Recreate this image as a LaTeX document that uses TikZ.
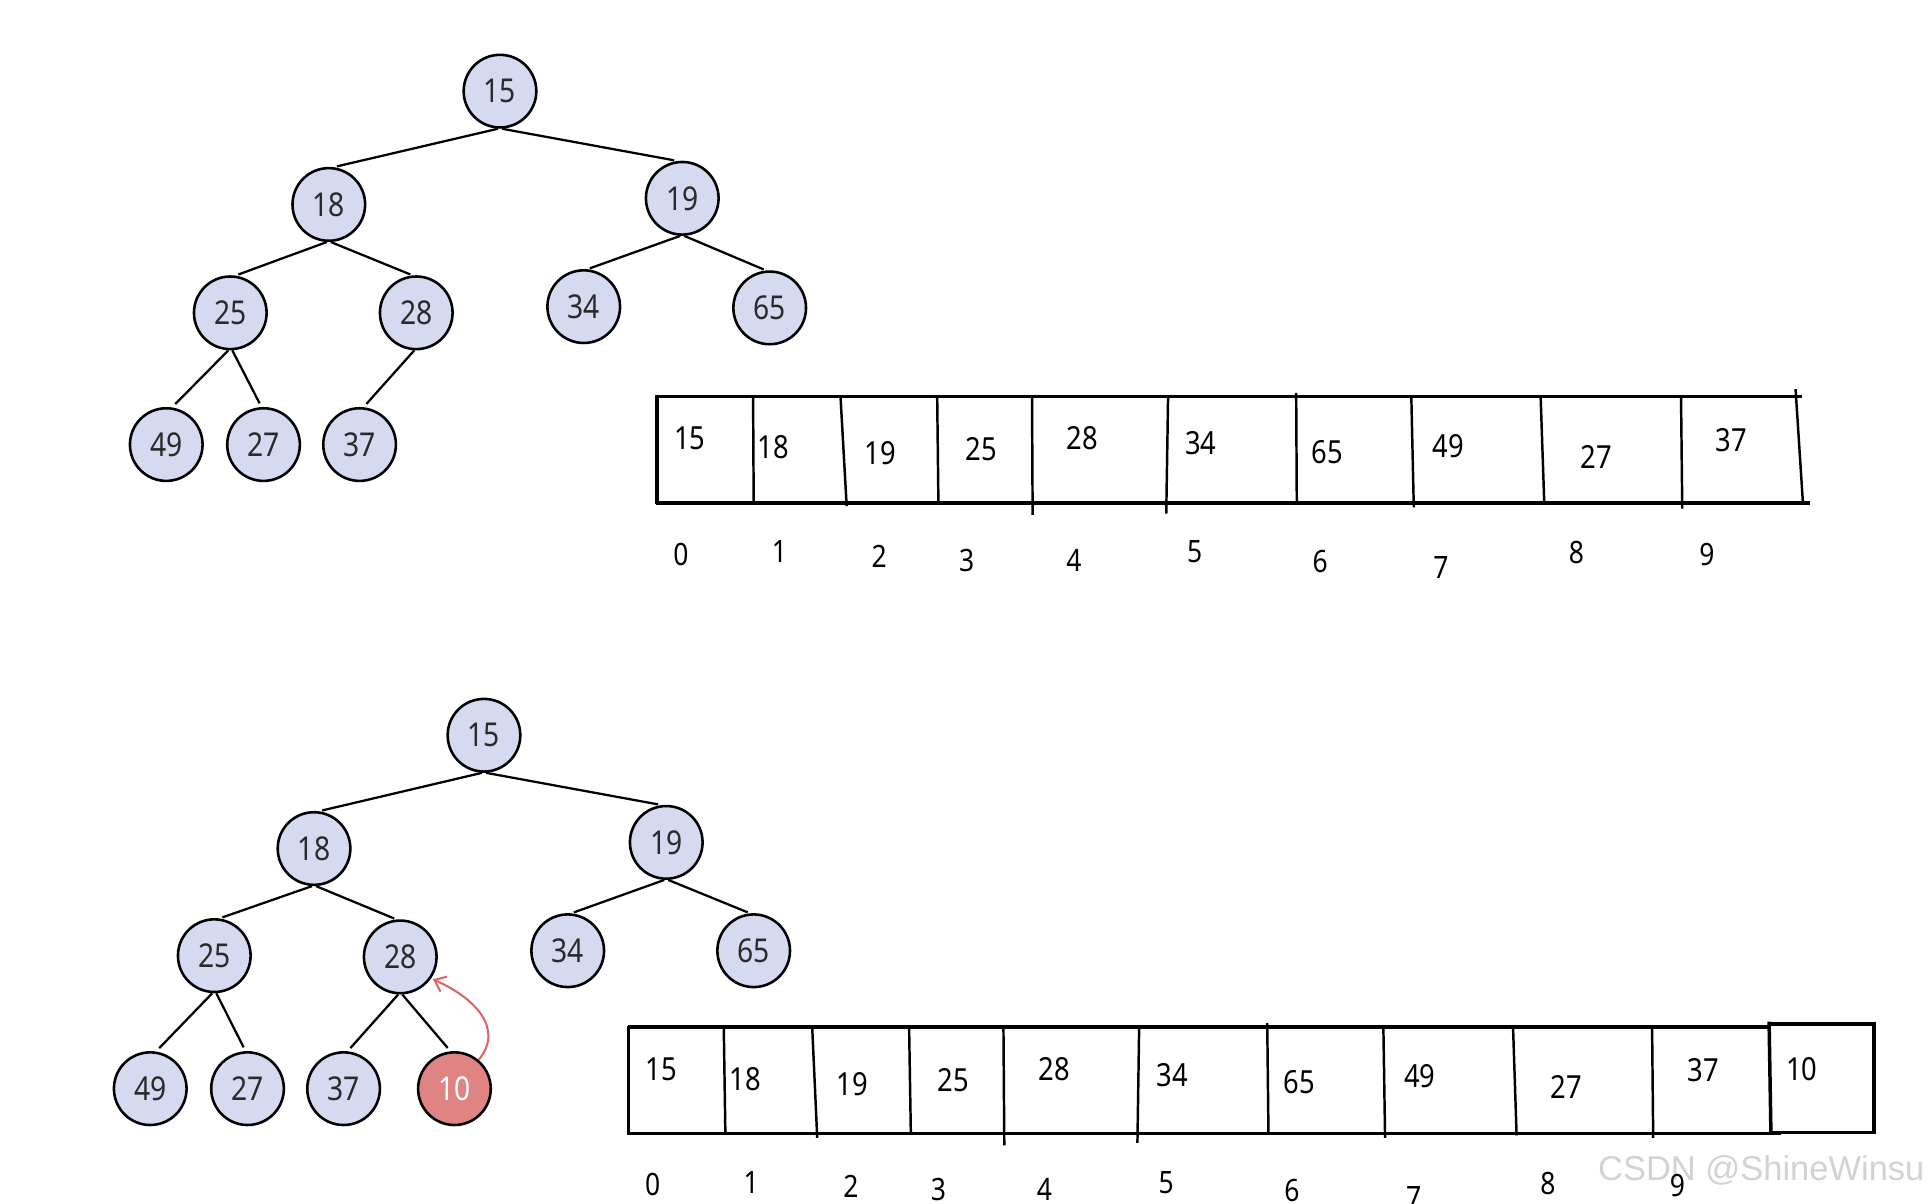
\documentclass[tikz,border=0pt]{standalone}
\usepackage{fontspec}
\usetikzlibrary{arrows.meta}
\newfontfamily\numfont[FakeStretch=0.86]{Noto Sans}
\newfontfamily\wmfont{Liberation Sans}
\definecolor{nodefill}{HTML}{D5DAF1}
\definecolor{hotfill}{HTML}{DF8482}
\definecolor{arrowred}{HTML}{E06464}
\definecolor{treetext}{HTML}{2A2A2A}
\definecolor{wmgray}{HTML}{D2D2D2}
\begin{document}
\begin{tikzpicture}[x=0.6pt,y=-0.6pt,
  hn/.style={circle, draw=black, line width=1.25pt, fill=nodefill, minimum size=35.4pt, inner sep=0pt,
     font=\numfont\fontsize{16}{18}\selectfont, text=treetext},
  hot/.style={hn, fill=hotfill, text=white},
  treeedge/.style={line width=1.1pt, shorten >=1pt},
  hline/.style={line width=1.7pt},
  vline/.style={line width=1.2pt},
  celltxt/.style={inner sep=0pt, font=\numfont\fontsize{15.5}{18}\selectfont},
  idx/.style={inner sep=0pt, font=\numfont\fontsize{15}{18}\selectfont}]
\useasboundingbox (0,0) rectangle (1568,977);

% ---------- top tree ----------
\node[hn] (a15) at (406,74) {15};
\node[hn] (a18) at (267,166) {18};
\node[hn] (a19) at (554,161) {19};
\node[hn] (a25) at (187,254) {25};
\node[hn] (a28) at (338,254) {28};
\node[hn] (a34) at (474,249) {34};
\node[hn] (a65) at (625,250) {65};
\node[hn] (a49) at (135,361) {49};
\node[hn] (a27) at (214,361) {27};
\node[hn] (a37) at (292,361) {37};
\draw[treeedge] ([xshift=-1pt]a15.south) -- ([xshift=3pt]a18.north);
\draw[treeedge] ([xshift=1pt]a15.south) -- ([xshift=-3pt]a19.north);
\draw[treeedge] ([xshift=-1pt]a18.south) -- ([xshift=3pt]a25.north);
\draw[treeedge] ([xshift=1pt]a18.south) -- ([xshift=-2pt]a28.north);
\draw[treeedge] ([xshift=-1pt]a19.south) -- ([xshift=2pt]a34.north);
\draw[treeedge] ([xshift=1pt]a19.south) -- ([xshift=-2pt]a65.north);
\draw[treeedge, shorten >=2pt] ([xshift=-1pt]a25.south) -- ([xshift=3pt]a49.north);
\draw[treeedge, shorten >=2pt] ([xshift=1pt]a25.south) -- ([xshift=-1pt]a27.north);
\draw[treeedge, shorten >=2pt] ([xshift=-1pt]a28.south) -- ([xshift=2pt]a37.north);

% ---------- top array ----------
\draw[hline] (533,322) -- (1463,322);
\draw[hline] (533,408.5) -- (1470,408.5);
\draw[hline] (533.5,321) -- (533.5,409.5);
\draw[vline] (611.5,322) -- (612,408.5);
\draw[vline] (682.5,322) -- (687.5,411);
\draw[vline] (761,322) -- (762,408.5);
\draw[vline] (838,322) -- (838.5,418);
\draw[vline] (948.5,322) -- (947,417);
\draw[vline] (1052.5,319) -- (1053,408.5);
\draw[vline] (1146,322) -- (1148,412);
\draw[vline] (1251,322) -- (1254,410);
\draw[vline] (1365,322) -- (1366,413);
\draw[vline] (1458,316) -- (1464,408.5);

\node[celltxt] (c0) at (560,356) {15};
\node[celltxt] (c1) at (628,363) {18};
\node[celltxt] (c2) at (715,368) {19};
\node[celltxt] (c3) at (797,365) {25};
\node[celltxt] (c4) at (879,356) {28};
\node[celltxt] (c5) at (975,360) {34};
\node[celltxt] (c6) at (1078,367) {65};
\node[celltxt] (c7) at (1176,362) {49};
\node[celltxt] (c8) at (1296,371) {27};
\node[celltxt] (c9) at (1406,357) {37};

\node[idx] (i0) at (553,450) {0};
\node[idx] (i1) at (633,448) {1};
\node[idx] (i2) at (714,452) {2};
\node[idx] (i3) at (785,455) {3};
\node[idx] (i4) at (872,455) {4};
\node[idx] (i5) at (970,448) {5};
\node[idx] (i6) at (1072,456) {6};
\node[idx] (i7) at (1170,461) {7};
\node[idx] (i8) at (1280,449) {8};
\node[idx] (i9) at (1386,450) {9};

% ---------- bottom tree ----------
\node[hn] (b15) at (393,597) {15};
\node[hn] (b18) at (255,689) {18};
\node[hn] (b19) at (541,684) {19};
\node[hn] (b25) at (174,776) {25};
\node[hn] (b28) at (325,777) {28};
\node[hn] (b34) at (461,772) {34};
\node[hn] (b65) at (612,772) {65};
\node[hn] (b49) at (122,884) {49};
\node[hn] (b27) at (201,884) {27};
\node[hn] (b37) at (279,884) {37};
\node[hot] (b10) at (369,884) {10};
\draw[treeedge] ([xshift=-1pt]b15.south) -- ([xshift=3pt]b18.north);
\draw[treeedge] ([xshift=1pt]b15.south) -- ([xshift=-3pt]b19.north);
\draw[treeedge] ([xshift=-1pt]b18.south) -- ([xshift=3pt]b25.north);
\draw[treeedge] ([xshift=1pt]b18.south) -- ([xshift=-2pt]b28.north);
\draw[treeedge] ([xshift=-1pt]b19.south) -- ([xshift=2pt]b34.north);
\draw[treeedge] ([xshift=1pt]b19.south) -- ([xshift=-2pt]b65.north);
\draw[treeedge, shorten >=2pt] ([xshift=-1pt]b25.south) -- ([xshift=3pt]b49.north);
\draw[treeedge, shorten >=2pt] ([xshift=1pt]b25.south) -- ([xshift=-1pt]b27.north);
\draw[treeedge, shorten >=2pt] ([xshift=-1pt]b28.south) -- ([xshift=2pt]b37.north);
\draw[treeedge, shorten >=2pt] ([xshift=1pt]b28.south) -- ([xshift=-2pt]b10.north);
\draw[arrowred, line width=1pt, -{Straight Barb[length=5pt,width=8pt]}, shorten >=1pt]
  (b10.50) .. controls (410,835) and (385,810) .. (b28.-35);

% ---------- bottom array ----------
\draw[hline] (510,834) -- (1437,834);
\draw[hline] (510,920.3) -- (1446,920.3);
\draw[hline] (510.4,833) -- (510.4,921.3);
\draw[vline] (587.7,834) -- (589,920);
\draw[vline] (659.5,834) -- (663.6,924);
\draw[vline] (738.2,834) -- (739.6,920);
\draw[vline] (814.8,834) -- (815.5,930);
\draw[vline] (925,834) -- (923.6,928);
\draw[vline] (1029,830.8) -- (1030,920);
\draw[vline] (1123.3,834) -- (1124.7,924);
\draw[vline] (1228.6,834) -- (1231.5,922);
\draw[vline] (1341.5,834) -- (1342.4,924);
\draw[hline] (1436.5,829.6) -- (1438,920.3);
\draw[hline] (1438,831.5) -- (1521.5,831.5) -- (1521.5,919.7) -- (1438,919.7);

\node[celltxt] (d0) at (537,868) {15};
\node[celltxt] (d1) at (605,876) {18};
\node[celltxt] (d2) at (692,880) {19};
\node[celltxt] (d3) at (774,877) {25};
\node[celltxt] (d4) at (856,868) {28};
\node[celltxt] (d5) at (952,873) {34};
\node[celltxt] (d6) at (1055,879) {65};
\node[celltxt] (d7) at (1153,874) {49};
\node[celltxt] (d8) at (1272,883) {27};
\node[celltxt] (d9) at (1383,869) {37};
\node[celltxt] (d10) at (1463,868) {10};

\node[anchor=east, inner sep=0pt, text=wmgray, font=\wmfont\fontsize{16.8}{20}\selectfont] (wm) at (1563,950) {CSDN @ShineWinsu};

\node[idx] (j0) at (530,962) {0};
\node[idx] (j1) at (610,960) {1};
\node[idx] (j2) at (691,963) {2};
\node[idx] (j3) at (762,966) {3};
\node[idx] (j4) at (848,966) {4};
\node[idx] (j5) at (947,960) {5};
\node[idx] (j6) at (1049,967) {6};
\node[idx] (j7) at (1148,972) {7};
\node[idx] (j8) at (1257,961) {8};
\node[idx] (j9) at (1362,963) {9};
\end{tikzpicture}
\end{document}
